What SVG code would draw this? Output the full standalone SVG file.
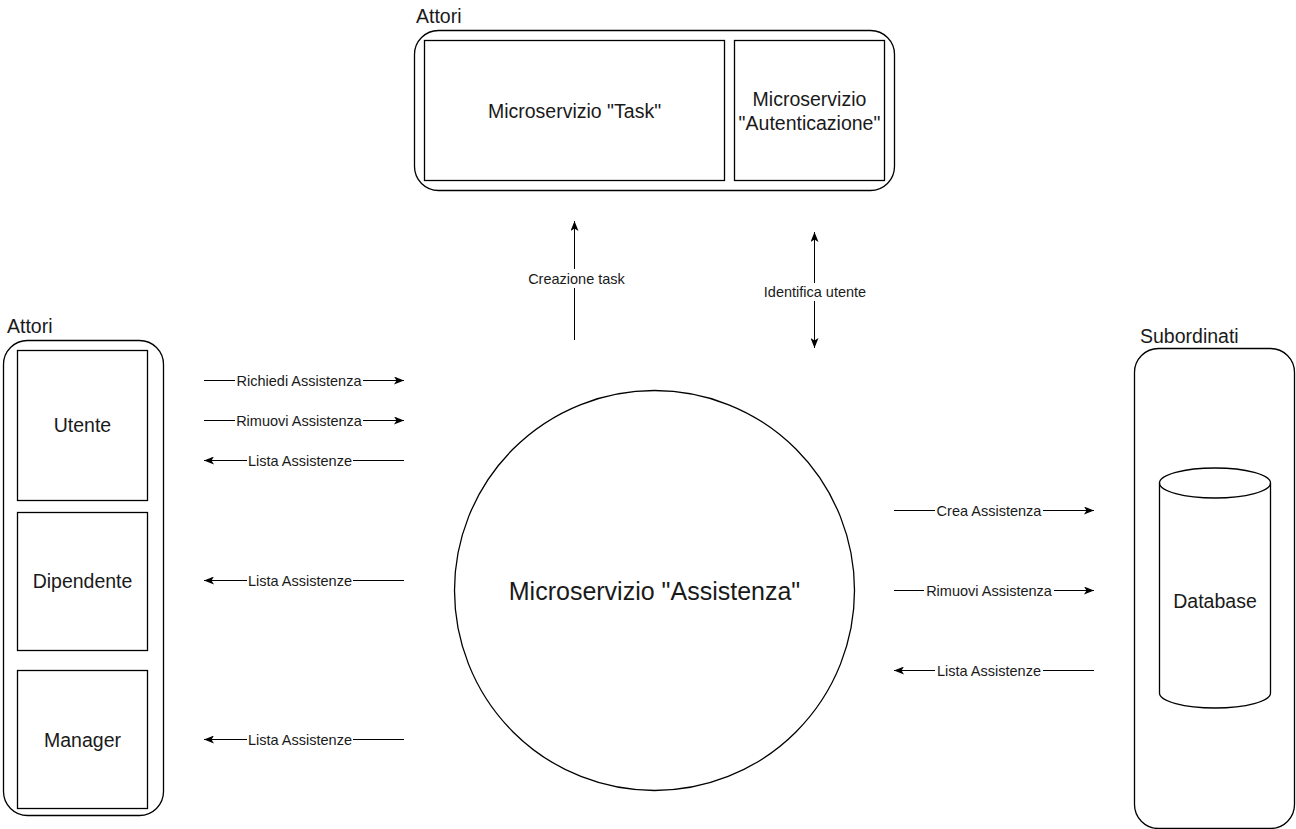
<svg xmlns="http://www.w3.org/2000/svg" width="1296" height="829" viewBox="0 0 1296 829">
<style>
.box{fill:#fff;stroke:#000;stroke-width:1.3}
.t{font-family:"Liberation Sans",Arial,sans-serif;font-size:19.5px;fill:#1a1a1a;text-anchor:middle}
.tl{font-family:"Liberation Sans",Arial,sans-serif;font-size:19.5px;fill:#1a1a1a}
.big{font-family:"Liberation Sans",Arial,sans-serif;font-size:25px;fill:#1a1a1a;text-anchor:middle}
.el{font-family:"Liberation Sans",Arial,sans-serif;font-size:14.5px;fill:#1a1a1a;text-anchor:middle}
.ln{fill:none;stroke:#000;stroke-width:1}
.bg{fill:#fff}
</style>
<defs>
<marker id="arr" viewBox="0 0 10 8" refX="10" refY="4" markerWidth="10" markerHeight="8" markerUnits="userSpaceOnUse" orient="auto-start-reverse">
<path d="M0,0 L10,4 L0,8 L2.5,4 z" fill="#000"/>
</marker>
</defs>
<rect width="1296" height="829" fill="#fff"/>

<g id="top-container">
<text class="tl" x="416" y="23">Attori</text>
<rect class="box" x="414.5" y="30.5" width="480" height="160" rx="24" ry="24"/>
</g>
<g id="task">
<rect class="box" x="424.5" y="40.5" width="300" height="140"/>
<text class="t" x="574.5" y="118">Microservizio "Task"</text>
</g>
<g id="auth">
<rect class="box" x="734.5" y="40.5" width="150" height="140"/>
<text class="t" x="809.5" y="106">Microservizio</text>
<text class="t" x="809.5" y="130">"Autenticazione"</text>
</g>

<g id="left-container">
<text class="tl" x="7" y="333">Attori</text>
<rect class="box" x="3.5" y="340.5" width="160" height="475" rx="24" ry="24"/>
</g>
<g id="utente">
<rect class="box" x="17.5" y="350.5" width="130" height="150"/>
<text class="t" x="82.5" y="432">Utente</text>
</g>
<g id="dipendente">
<rect class="box" x="17.5" y="512.5" width="130" height="138"/>
<text class="t" x="82.5" y="588">Dipendente</text>
</g>
<g id="manager">
<rect class="box" x="17.5" y="670.5" width="130" height="138"/>
<text class="t" x="82.5" y="747">Manager</text>
</g>

<g id="assistenza">
<circle class="box" cx="654.5" cy="590.5" r="200"/>
<text class="big" x="654.5" y="600">Microservizio "Assistenza"</text>
</g>

<g id="right-container">
<text class="tl" x="1140" y="343">Subordinati</text>
<rect class="box" x="1134.5" y="348.5" width="160" height="480" rx="24" ry="24"/>
</g>
<g id="database">
<path class="box" d="M1159.5,483 A55.5,15 0 0 1 1270.5,483 L1270.5,693 A55.5,15 0 0 1 1159.5,693 Z"/>
<path class="box" style="fill:none" d="M1159.5,483 A55.5,15 0 0 0 1270.5,483"/>
<text class="t" x="1215" y="608">Database</text>
</g>

<g id="connectors">
<line class="ln" x1="204" y1="380.5" x2="404" y2="380.5" marker-end="url(#arr)"/>
<rect class="bg" x="235" y="373" width="128" height="16"/>
<text class="el" x="299" y="385.5">Richiedi Assistenza</text>

<line class="ln" x1="204" y1="420.5" x2="404" y2="420.5" marker-end="url(#arr)"/>
<rect class="bg" x="235" y="413" width="128" height="16"/>
<text class="el" x="299" y="425.5">Rimuovi Assistenza</text>

<line class="ln" x1="404" y1="460.5" x2="204" y2="460.5" marker-end="url(#arr)"/>
<rect class="bg" x="247" y="453" width="106" height="16"/>
<text class="el" x="300" y="465.5">Lista Assistenze</text>

<line class="ln" x1="404" y1="580.5" x2="204" y2="580.5" marker-end="url(#arr)"/>
<rect class="bg" x="247" y="573" width="106" height="16"/>
<text class="el" x="300" y="585.5">Lista Assistenze</text>

<line class="ln" x1="404" y1="739.5" x2="204" y2="739.5" marker-end="url(#arr)"/>
<rect class="bg" x="247" y="732" width="106" height="16"/>
<text class="el" x="300" y="744.5">Lista Assistenze</text>

<line class="ln" x1="894" y1="510.5" x2="1094" y2="510.5" marker-end="url(#arr)"/>
<rect class="bg" x="935" y="503" width="108" height="16"/>
<text class="el" x="989" y="515.5">Crea Assistenza</text>

<line class="ln" x1="894" y1="590.5" x2="1094" y2="590.5" marker-end="url(#arr)"/>
<rect class="bg" x="924" y="583" width="130" height="16"/>
<text class="el" x="989" y="595.5">Rimuovi Assistenza</text>

<line class="ln" x1="1094" y1="670.5" x2="894" y2="670.5" marker-end="url(#arr)"/>
<rect class="bg" x="935" y="663" width="108" height="16"/>
<text class="el" x="989" y="675.5">Lista Assistenze</text>

<line class="ln" x1="574.5" y1="340" x2="574.5" y2="221" marker-end="url(#arr)"/>
<rect class="bg" x="526" y="269" width="101" height="19"/>
<text class="el" x="576.5" y="284">Creazione task</text>

<line class="ln" x1="814.5" y1="232" x2="814.5" y2="348" marker-start="url(#arr)" marker-end="url(#arr)"/>
<rect class="bg" x="763" y="283" width="104" height="18"/>
<text class="el" x="815" y="297">Identifica utente</text>
</g>
</svg>
